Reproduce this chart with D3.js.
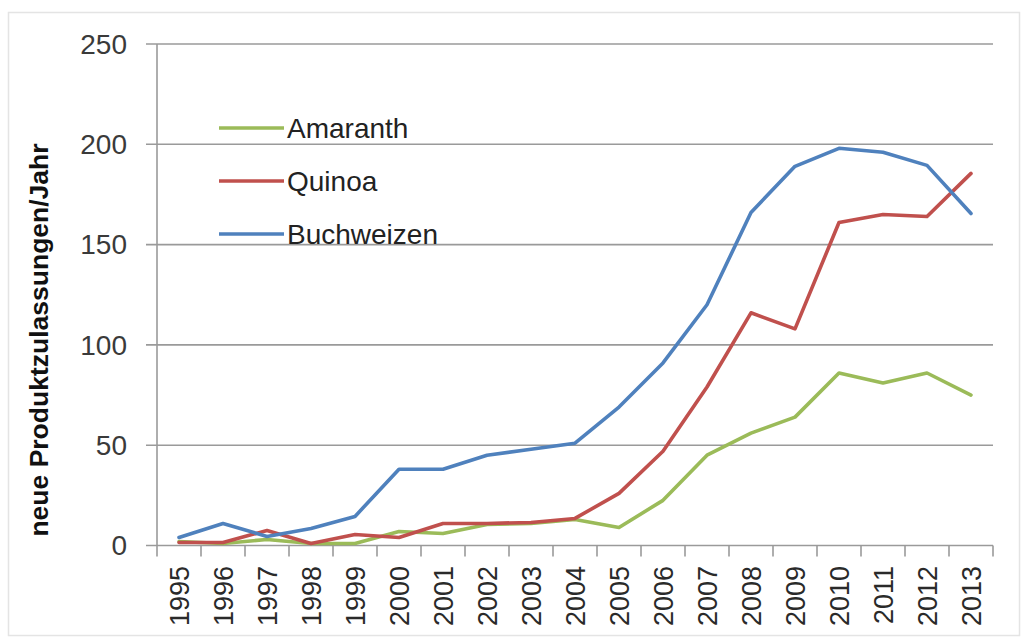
<!DOCTYPE html>
<html>
<head>
<meta charset="utf-8">
<script src="https://cdnjs.cloudflare.com/ajax/libs/d3/7.8.5/d3.min.js"></script>
<style>
  html, body { margin: 0; padding: 0; background: #fff; }
  svg { display: block; font-family: "Liberation Sans", Arial, sans-serif; }
</style>
</head>
<body>
<svg id="chart" width="1021" height="639"></svg>
<script>
const years = ["1995","1996","1997","1998","1999","2000","2001","2002","2003","2004","2005","2006","2007","2008","2009","2010","2011","2012","2013"];
const amaranth   = [2, 1, 3, 1, 1, 7, 6, 10.5, 11, 13, 9, 22.5, 45, 56, 64, 86, 81, 86, 75];
const quinoa     = [1.5, 1.5, 7.5, 1, 5.5, 4, 11, 11, 11.5, 13.5, 26, 47, 79, 116, 108, 161, 165, 164, 185.5];
const buchweizen = [4, 11, 4.5, 8.5, 14.5, 38, 38, 45, 48, 51, 69, 91, 120, 166, 189, 198, 196, 189.5, 165.5];
const yTicks = [0, 50, 100, 150, 200, 250];
const seriesNames = ["Amaranth", "Quinoa", "Buchweizen"];
const seriesColors = ["#9BBB59", "#C0504D", "#4F81BD"];
const yTitle = "neue Produktzulassungen/Jahr";

const series = [amaranth, quinoa, buchweizen].map((v, i) => ({ name: seriesNames[i], color: seriesColors[i], values: v }));

const svg = d3.select("#chart");
const plotLeft = 157, plotRight = 993, plotTop = 44, plotBottom = 545.5;

// outer frame
svg.append("rect").attr("x", 8.5).attr("y", 12.5).attr("width", 1011).attr("height", 623)
  .attr("fill", "#fff").attr("stroke", "#e4e4e4").attr("stroke-width", 1.5);

const x = d3.scaleBand().domain(years).range([plotLeft, plotRight]).padding(0);
const y = d3.scaleLinear().domain([0, 250]).range([plotBottom, plotTop]);

// gridlines + y tick marks
const gy = svg.append("g");
gy.selectAll("line").data(yTicks).join("line")
  .attr("x1", plotLeft - 11).attr("x2", plotRight)
  .attr("y1", d => y(d)).attr("y2", d => y(d))
  .attr("stroke", "#9a9a9a").attr("stroke-width", 1.6);
gy.selectAll("text").data(yTicks).join("text")
  .attr("x", 127).attr("y", d => y(d)).attr("dy", "0.35em")
  .attr("text-anchor", "end").attr("font-size", 28).attr("fill", "#3a3a3a")
  .text(d => d);

// y axis line
svg.append("line").attr("x1", plotLeft).attr("x2", plotLeft).attr("y1", plotTop).attr("y2", plotBottom)
  .attr("stroke", "#9a9a9a").attr("stroke-width", 1.6);

// x axis ticks at band boundaries
const bounds = years.map(d => x(d)).concat([x(years[years.length - 1]) + x.bandwidth()]);
svg.append("g").selectAll("line").data(bounds).join("line")
  .attr("x1", d => d).attr("x2", d => d).attr("y1", plotBottom).attr("y2", plotBottom + 11)
  .attr("stroke", "#9a9a9a").attr("stroke-width", 1.6);

// x labels
svg.append("g").selectAll("text").data(years).join("text")
  .attr("transform", d => `translate(${x(d) + x.bandwidth() / 2 + 10},566) rotate(-90)`)
  .attr("text-anchor", "end").attr("font-size", 27).attr("fill", "#2a2a2a")
  .text(d => d);

// y title
svg.append("text")
  .attr("transform", "translate(48,340) rotate(-90)")
  .attr("text-anchor", "middle").attr("font-size", 26.5).attr("font-weight", "bold").attr("fill", "#111")
  .text(yTitle);

// lines
const line = d3.line().x((d, i) => x(years[i]) + x.bandwidth() / 2).y(d => y(d));
svg.append("g").selectAll("path").data(series).join("path")
  .attr("d", d => line(d.values))
  .attr("fill", "none").attr("stroke", d => d.color).attr("stroke-width", 3.6)
  .attr("stroke-linejoin", "round").attr("stroke-linecap", "round");

// legend
const legendY = [128, 181, 234];
const lg = svg.append("g").selectAll("g").data(series).join("g")
  .attr("transform", (d, i) => `translate(0,${legendY[i]})`);
lg.append("line").attr("x1", 219).attr("x2", 284).attr("y1", 0).attr("y2", 0)
  .attr("stroke", d => d.color).attr("stroke-width", 3.6);
lg.append("text").attr("x", 287).attr("y", 0).attr("dy", "0.35em")
  .attr("font-size", 28).attr("fill", "#222").text(d => d.name);
</script>
</body>
</html>
